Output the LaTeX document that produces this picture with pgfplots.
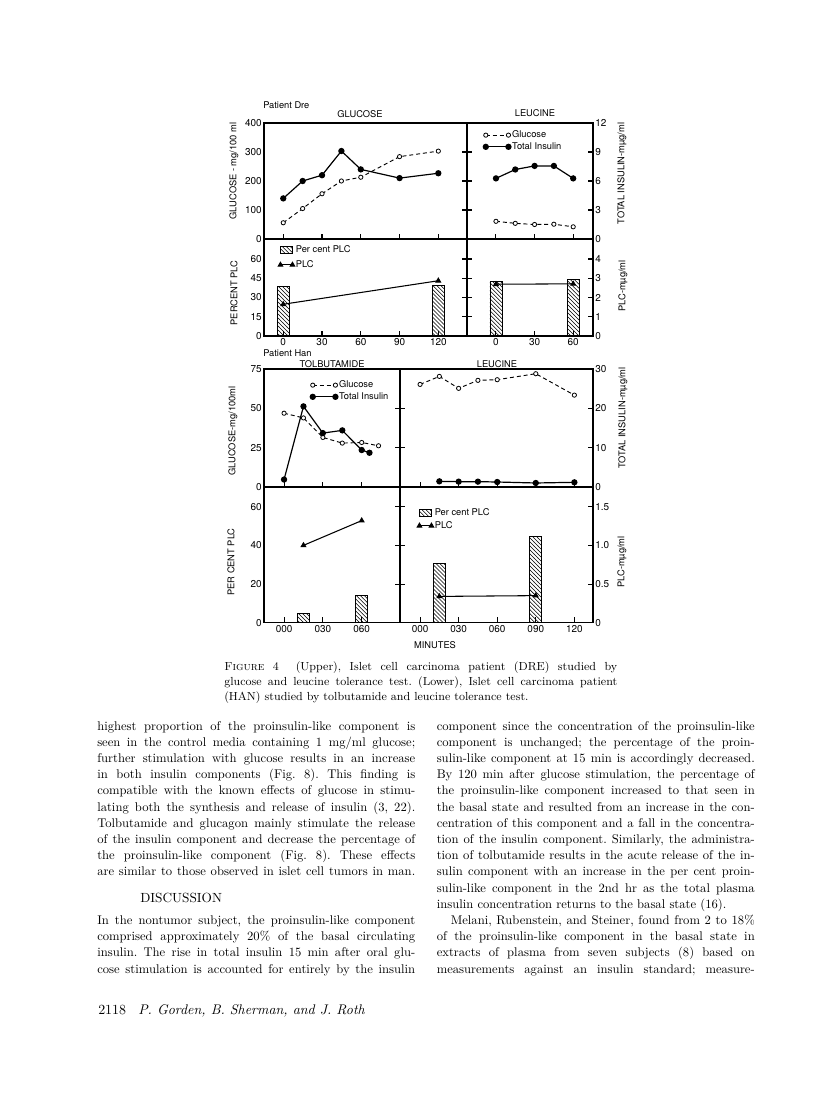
\documentclass[border=0pt]{standalone}
\usepackage{fontspec}
\usepackage{pgfplots}
\pgfplotsset{compat=1.18}
\usetikzlibrary{patterns}
\newfontfamily\figfont{TeX Gyre Heros}
\newcommand\tickfont{\figfont\fontsize{7.5}{8}\selectfont}
\newcommand\labfont{\figfont\fontsize{7}{8}\selectfont}
\newcommand\bodyfont{\fontsize{9.5}{11}\selectfont}
\newcommand\capfont{\fontsize{8.8}{10}\selectfont}
\newlength\colw \setlength\colw{238.5bp}
\newlength\capw \setlength\capw{294.75bp}
\newcommand\J[1]{\hbox to \colw{#1}}
\newcommand\N[1]{\hbox to \colw{#1\hfil}}

\pgfplotsset{
  panel/.style={scale only axis, anchor=south west, axis line style={line width=0.9pt},
    tick style={black, line width=0.8pt}, major tick length=4bp, tick align=inside,
    xtick pos=left, ticklabel style={font=\tickfont},
    /pgf/number format/assume math mode=true, clip=false,
    xticklabel style={inner sep=1.5pt}, yticklabel style={inner sep=1.5pt}},
  hid/.style={scale only axis, anchor=south west, hide axis, clip=false},
  glu/.style={black, line width=0.7pt, dash pattern=on 3pt off 2.2pt, mark=*, mark size=1.6pt,
    mark options={solid, fill=white, line width=0.6pt}},
  ins/.style={black, line width=0.9pt, mark=*, mark size=1.9pt, mark options={solid}},
  plc/.style={black, line width=0.8pt, mark=triangle*, mark size=1.9pt},
  bar/.style={ybar, bar width=9bp, draw=black, line width=0.7pt, pattern=north west lines},
  lgline/.style={legend image code/.code={\draw[mark repeat=2,mark phase=1,##1] plot coordinates {(0bp,0bp) (8.5bp,0bp) (17bp,0bp)};}},
  lgshort/.style={legend image code/.code={\draw[mark repeat=2,mark phase=1,##1] plot coordinates {(0bp,0bp) (4.5bp,0bp) (9bp,0bp)};}},
  lgbar/.style={legend image code/.code={\draw[##1] (0bp,-2.8bp) rectangle (9bp,2.8bp);}},
  lgsty/.style={legend style={draw=none, fill=none, font=\labfont, inner sep=0pt, row sep=#1,
    nodes={inner sep=0.9pt, text height=5.5pt, text depth=1.5pt}}, legend cell align=left},
}

\begin{document}
\frenchspacing
\begin{tikzpicture}
\begin{scope}[x=0.75bp,y=-0.75bp]
\fill[white] (0,0) rectangle (816,1100);
\coordinate (DTL) at (264,239);
\coordinate (DTR) at (467,239);
\coordinate (DBL) at (264,336);
\coordinate (DBR) at (467,336);
\coordinate (HTL) at (264,487);
\coordinate (HTR) at (400,487);
\coordinate (HBL) at (264,622.7);
\coordinate (HBR) at (400,622.7);
% figure titles and labels
\node[anchor=base west, inner sep=0, font=\labfont] at (263,108.5) {Patient Dre};
\node[anchor=base, inner sep=0, font=\labfont] at (360,118) {GLUCOSE};
\node[anchor=base, inner sep=0, font=\labfont] at (535,117) {LEUCINE};
\node[rotate=90, inner sep=0, font=\labfont] at (234,171) {GLUCOSE - mg/100 ml};
\node[rotate=90, inner sep=0, font=\labfont] at (234,293) {PERCENT PLC};
\node[rotate=90, inner sep=0, font=\labfont] at (622,173.5) {TOTAL INSULIN-mµg/ml};
\node[rotate=90, inner sep=0, font=\labfont] at (623,286) {PLC-mµg/ml};
\node[anchor=base west, inner sep=0, font=\labfont] at (263,356.5) {Patient Han};
\node[anchor=base, inner sep=0, font=\labfont] at (332,367.5) {TOLBUTAMIDE};
\node[anchor=base, inner sep=0, font=\labfont] at (497,367.5) {LEUCINE};
\node[rotate=90, inner sep=0, font=\labfont] at (233,431) {GLUCOSE-mg/100ml};
\node[rotate=90, inner sep=0, font=\labfont] at (231,562) {PER CENT PLC};
\node[rotate=90, inner sep=0, font=\labfont] at (623,418) {TOTAL INSULIN-mµg/ml};
\node[rotate=90, inner sep=0, font=\labfont] at (622,562) {PLC-mµg/ml};
\node[anchor=base, inner sep=0, font=\labfont] at (435,648) {MINUTES};
% caption
\node[anchor=base west, inner sep=0] at (224,670) {\capfont\hbox to \capw{\textsc{Figure} 4\ \ (Upper), Islet cell carcinoma patient (DRE) studied by}};
\node[anchor=base west, inner sep=0] at (224,685.5) {\capfont\hbox to \capw{glucose and leucine tolerance test. (Lower), Islet cell carcinoma patient}};
\node[anchor=base west, inner sep=0] at (224,700.5) {\capfont (HAN) studied by tolbutamide and leucine tolerance test.};
% left column
\begin{scope}[every node/.style={anchor=base west, inner sep=0, font=\bodyfont}]
\node at (97,730.0) {\J{highest proportion of the proinsulin-like component is}};
\node at (97,746.2) {\J{seen in the control media containing 1 mg/ml glucose;}};
\node at (97,762.4) {\J{further stimulation with glucose results in an increase}};
\node at (97,778.6) {\J{in both insulin components (Fig. 8). This finding is}};
\node at (97,794.8) {\J{compatible with the known effects of glucose in stimu-}};
\node at (97,811.0) {\J{lating both the synthesis and release of insulin (3, 22).}};
\node at (97,827.2) {\J{Tolbutamide and glucagon mainly stimulate the release}};
\node at (97,843.4) {\J{of the insulin component and decrease the percentage of}};
\node at (97,859.6) {\J{the proinsulin-like component (Fig. 8). These effects}};
\node at (97,875.8) {\J{are similar to those observed in islet cell tumors in man.}};
\node[font=\fontsize{10}{12}\selectfont] at (140,902.7) {DISCUSSION};
\node at (97,924.4) {\J{In the nontumor subject, the proinsulin-like component}};
\node at (97,940.6) {\J{comprised approximately 20\% of the basal circulating}};
\node at (97,956.8) {\J{insulin. The rise in total insulin 15 min after oral glu-}};
\node at (97,973.0) {\J{cose stimulation is accounted for entirely by the insulin}};
% right column
\node at (436.5,730.0) {\J{component since the concentration of the proinsulin-like}};
\node at (436.5,746.2) {\J{component is unchanged; the percentage of the proin-}};
\node at (436.5,762.4) {\J{sulin-like component at 15 min is accordingly decreased.}};
\node at (436.5,778.6) {\J{By 120 min after glucose stimulation, the percentage of}};
\node at (436.5,794.8) {\J{the proinsulin-like component increased to that seen in}};
\node at (436.5,811.0) {\J{the basal state and resulted from an increase in the con-}};
\node at (436.5,827.2) {\J{centration of this component and a fall in the concentra-}};
\node at (436.5,843.4) {\J{tion of the insulin component. Similarly, the administra-}};
\node at (436.5,859.6) {\J{tion of tolbutamide results in the acute release of the in-}};
\node at (436.5,875.8) {\J{sulin component with an increase in the per cent proin-}};
\node at (436.5,892.0) {\J{sulin-like component in the 2nd hr as the total plasma}};
\node at (436.5,908.2) {\N{insulin concentration returns to the basal state (16).}};
\node at (436.5,924.4) {\J{\hskip 10.5bp Melani, Rubenstein, and Steiner, found from 2 to 18\%}};
\node at (436.5,940.6) {\J{of the proinsulin-like component in the basal state in}};
\node at (436.5,956.8) {\J{extracts of plasma from seven subjects (8) based on}};
\node at (436.5,973.0) {\J{measurements against an insulin standard; measure-}};
% footer
\node[font=\fontsize{10.5}{12}\selectfont] at (98,1014) {2118};
\node[font=\fontsize{10.5}{12}\selectfont\itshape] at (138,1014) {P. Gorden, B. Sherman, and J. Roth};
\end{scope}
\end{scope}

%================ Patient Dre: glucose test
\begin{axis}[panel, at={(DTL)}, width=152.25bp, height=87bp, xmin=-14.9, xmax=142.2, ymin=0, ymax=400,
  xtick={0,30,60,90,120}, xticklabels={}, ytick={0,100,200,300,400}, yticklabels={0,100,200,300,400},
  ytick pos=right, yticklabel pos=left]
\addplot[glu] table {
t glucose
0 56
15 105
30 156
45 200
60 213
90 284
120 303
};
\end{axis}
\begin{axis}[hid, at={(DTL)}, width=152.25bp, height=87bp, xmin=-14.9, xmax=142.2, ymin=0, ymax=12]
\addplot[ins] table {
t insulin
0 4.2
15 6.0
30 6.6
45 9.1
60 7.2
90 6.3
120 6.8
};
\end{axis}
%================ Patient Dre: leucine test
\begin{axis}[panel, at={(DTR)}, width=94.5bp, height=87bp, xmin=-22.5, xmax=75.4, ymin=0, ymax=400,
  xtick={0,30,60}, xticklabels={}, ytick={100,200,300}, yticklabels={}, ytick pos=left]
\addplot[glu] table {
t glucose
0 61
15 54
30 50
45 51
60 42
};
\end{axis}
\begin{axis}[panel, at={(DTR)}, width=94.5bp, height=87bp, xmin=-22.5, xmax=75.4, ymin=0, ymax=12,
  xtick=\empty, ytick={0,3,6,9,12}, yticklabels={0,3,6,9,12}, ytick pos=right, yticklabel pos=right,
  lgsty=0pt, legend style={at={(0.127,0.948)}, anchor=north west}]
\addlegendimage{glu, lgline}
\addlegendentry{Glucose}
\addplot[ins, lgline] table {
t insulin
0 6.27
15 7.19
30 7.56
45 7.56
60 6.27
};
\addlegendentry{Total Insulin}
\end{axis}
%================ Patient Dre: PLC, glucose test
\begin{axis}[panel, at={(DBL)}, width=152.25bp, height=72.75bp, xmin=-14.9, xmax=142.2, ymin=0, ymax=75.6,
  xtick={0,30,60,90,120}, xticklabels={0,30,60,90,120}, ytick={0,15,30,45,60}, yticklabels={0,15,30,45,60},
  ytick pos=right, yticklabel pos=left]
\addplot[bar] coordinates {(0,38.4) (120,39.2)};
\end{axis}
\begin{axis}[hid, at={(DBL)}, width=152.25bp, height=72.75bp, xmin=-14.9, xmax=142.2, ymin=0, ymax=5.04,
  lgsty=2.3bp, legend style={at={(0.069,0.948)}, anchor=north west}]
\addlegendimage{bar, lgbar}
\addlegendentry{Per cent PLC}
\addplot[plc, lgshort] coordinates {(0,1.65) (120,2.87)};
\addlegendentry{PLC}
\end{axis}
%================ Patient Dre: PLC, leucine test
\begin{axis}[panel, at={(DBR)}, width=94.5bp, height=72.75bp, xmin=-22.5, xmax=75.4, ymin=0, ymax=75.6,
  xtick={0,30,60}, xticklabels={0,30,60}, ytick={15,30,45,60}, yticklabels={}, ytick pos=left]
\addplot[bar] coordinates {(0,42.4) (60,43.7)};
\end{axis}
\begin{axis}[panel, at={(DBR)}, width=94.5bp, height=72.75bp, xmin=-22.5, xmax=75.4, ymin=0, ymax=5.04,
  xtick=\empty, ytick={0,1,2,3,4}, yticklabels={0,1,2,3,4}, ytick pos=right, yticklabel pos=right]
\addplot[plc] coordinates {(0,2.69) (60,2.71)};
\end{axis}

%================ Patient Han: tolbutamide test
\begin{axis}[panel, at={(HTL)}, width=102bp, height=88.5bp, xmin=-15.5, xmax=89.6, ymin=0, ymax=75,
  xtick={0,30,60}, xticklabels={}, ytick={0,25,50,75}, yticklabels={0,25,50,75},
  ytick pos=right, yticklabel pos=left]
\addplot[glu] table {
t glucose
0 46.9
15 43.9
30 31.5
45 27.9
60 28.3
73 26.2
};
\end{axis}
\begin{axis}[hid, at={(HTL)}, width=102bp, height=88.5bp, xmin=-15.5, xmax=89.6, ymin=0, ymax=30,
  lgsty=0pt, legend style={at={(0.338,0.915)}, anchor=north west}]
\addlegendimage{glu, lgline}
\addlegendentry{Glucose}
\addplot[ins, lgline] table {
t insulin
0 1.9
15 20.5
30 13.7
45 14.4
60 9.4
66 8.7
};
\addlegendentry{Total Insulin}
\end{axis}
%================ Patient Han: leucine test
\begin{axis}[panel, at={(HTR)}, width=144.75bp, height=88.5bp, xmin=-15.6, xmax=134.5, ymin=0, ymax=75,
  xtick={0,30,60,90,120}, xticklabels={}, ytick={25,50}, yticklabels={}, ytick pos=left]
\addplot[glu] table {
t glucose
0 65.2
15 70.3
30 62.7
45 67.8
60 68.2
90 72.0
120 58.4
};
\end{axis}
\begin{axis}[panel, at={(HTR)}, width=144.75bp, height=88.5bp, xmin=-15.6, xmax=134.5, ymin=0, ymax=30,
  xtick=\empty, ytick={0,10,20,30}, yticklabels={0,10,20,30}, ytick pos=right, yticklabel pos=right]
\addplot[ins] table {
t insulin
15 1.44
30 1.36
45 1.36
60 1.27
90 1.02
120 1.19
};
\end{axis}
%================ Patient Han: PLC, tolbutamide test
\begin{axis}[panel, at={(HBL)}, width=102bp, height=101.8bp, xmin=-15.5, xmax=89.6, ymin=0, ymax=70.2,
  xtick={0,30,60}, xticklabels={000,030,060}, ytick={0,20,40,60}, yticklabels={0,20,40,60},
  ytick pos=right, yticklabel pos=left]
\addplot[bar] coordinates {(15,4.8) (60,14.0)};
\end{axis}
\begin{axis}[hid, at={(HBL)}, width=102bp, height=101.8bp, xmin=-15.5, xmax=89.6, ymin=0, ymax=1.755]
\addplot[plc] coordinates {(15,1.0) (60,1.32)};
\end{axis}
%================ Patient Han: PLC, leucine test
\begin{axis}[panel, at={(HBR)}, width=144.75bp, height=101.8bp, xmin=-15.6, xmax=134.5, ymin=0, ymax=70.2,
  xtick={0,30,60,90,120}, xticklabels={000,030,060,090,120}, ytick={20,40,60}, yticklabels={}, ytick pos=left]
\addplot[bar] coordinates {(15,30.8) (90,44.8)};
\end{axis}
\begin{axis}[panel, at={(HBR)}, width=144.75bp, height=101.8bp, xmin=-15.6, xmax=134.5, ymin=0, ymax=1.755,
  xtick=\empty, ytick={0,0.5,1,1.5}, yticklabels={0,0.5,1.0,1.5}, ytick pos=right, yticklabel pos=right,
  lgsty=0.8bp, legend style={at={(0.088,0.853)}, anchor=north west}]
\addlegendimage{bar, lgbar}
\addlegendentry{Per cent PLC}
\addplot[plc, lgshort] coordinates {(15,0.34) (90,0.35)};
\addlegendentry{PLC}
\end{axis}
\end{tikzpicture}
\end{document}
